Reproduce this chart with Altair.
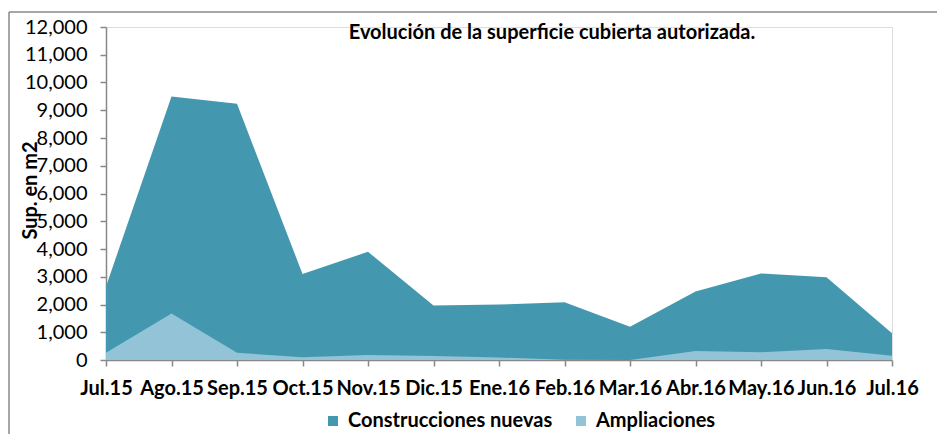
import altair as alt
import pandas as pd

months = ["Jul.15", "Ago.15", "Sep.15", "Oct.15", "Nov.15", "Dic.15", "Ene.16",
          "Feb.16", "Mar.16", "Abr.16", "May.16", "Jun.16", "Jul.16"]
construcciones = [2650, 9500, 9230, 3100, 3900, 1960, 2000, 2080, 1200, 2470, 3120, 2980, 960]
ampliaciones = [260, 1680, 260, 100, 180, 140, 90, 10, 0, 320, 280, 400, 150]
series = ["Construcciones nuevas", "Ampliaciones"]
colors = ["#4398B0", "#92C3D6"]
y_ticks = list(range(0, 12001, 1000))
title_text = "Evolución de la superficie cubierta autorizada."
y_title = "Sup. en m2"

rows = []
for m, c, a in zip(months, construcciones, ampliaciones):
    rows.append({"mes": m, "serie": series[0], "valor": c})
    rows.append({"mes": m, "serie": series[1], "valor": a})
df = pd.DataFrame(rows)

FONT = "Lato"

x_enc = alt.X("mes:N", sort=months,
              scale=alt.Scale(type="point", padding=0),
              axis=alt.Axis(title=None, labelAngle=0, labelFontSize=20,
                            labelFontWeight="bold", labelColor="#000000",
                            labelPadding=12, tickSize=6, tickColor="#888888",
                            domainColor="#888888", domainWidth=1.5,
                            tickWidth=1.5, grid=False, labelFont=FONT,
                            labelLimit=0))
y_enc = alt.Y("valor:Q", stack=None,
              scale=alt.Scale(domain=[0, 12000], nice=False),
              axis=alt.Axis(values=y_ticks, format=",.0f", labelFontSize=20,
                            labelColor="#000000", labelPadding=13, tickSize=6,
                            tickColor="#888888", domainColor="#888888",
                            domainWidth=1.5, tickWidth=1.5, grid=False,
                            title=y_title, titleFontSize=20, titleFontWeight="bold",
                            titleColor="#000000", titleAngle=270, titleX=-76,
                            titleY=163, titleAlign="center", titleBaseline="middle",
                            labelFont=FONT, titleFont=FONT))
color_enc = alt.Color("serie:N",
                      scale=alt.Scale(domain=series, range=colors),
                      legend=alt.Legend(title=None, orient="none", legendX=217,
                                        legendY=384, direction="horizontal",
                                        symbolType="square", symbolSize=100,
                                        symbolStrokeWidth=0, symbolOpacity=1,
                                        labelFontSize=20, labelFontWeight="bold",
                                        labelColor="#000000", labelFont=FONT,
                                        labelLimit=0, columnPadding=18,
                                        labelOffset=5))

base = alt.Chart(df)
area1 = base.transform_filter(alt.datum.serie == series[0]).mark_area(opacity=1).encode(
    x=x_enc, y=y_enc, color=color_enc)
area2 = base.transform_filter(alt.datum.serie == series[1]).mark_area(opacity=1).encode(
    x=x_enc, y=y_enc, color=color_enc)

one = pd.DataFrame({"t": [title_text]})
title = alt.Chart(one).mark_text(font=FONT, fontSize=20, fontWeight="bold",
                                 color="#000000", align="center",
                                 baseline="middle").encode(
    text="t:N", x=alt.value(446), y=alt.value(6))
border_top = alt.Chart(one).mark_rule(color="#888888", strokeWidth=1.5).encode(
    x=alt.value(-97), x2=alt.value(845), y=alt.value(-15))
border_left = alt.Chart(one).mark_rule(color="#888888", strokeWidth=1.5).encode(
    x=alt.value(-97), y=alt.value(-15), y2=alt.value(420))

chart = alt.layer(area1, area2, title, border_top, border_left).properties(
    width=786, height=333,
    padding={"left": 98, "top": 19, "right": 45, "bottom": 74},
    autosize=alt.AutoSizeParams(type="none"),
).configure_view(stroke=None).configure(font=FONT)

chart.save("out.html", embed_options={"renderer": "svg", "actions": False})
